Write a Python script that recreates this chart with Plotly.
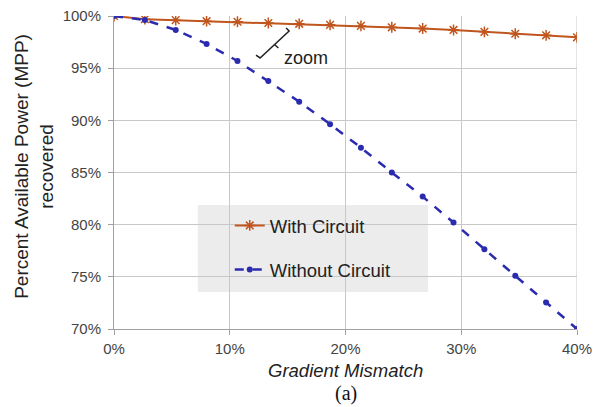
import plotly.graph_objects as go

mismatch = [i * 40 / 15 for i in range(16)]
with_circuit = [100, 99.7, 99.6, 99.5, 99.45, 99.33, 99.25, 99.15, 99.05, 98.92, 98.8, 98.66, 98.48, 98.3, 98.15, 97.96]
without_circuit = [100, 99.62, 98.66, 97.32, 95.69, 93.77, 91.79, 89.63, 87.38, 85.0, 82.69, 80.2, 77.65, 75.1, 72.54, 70.0]
x_ticks = [0, 10, 20, 30, 40]
x_tick_labels = ["0%", "10%", "20%", "30%", "40%"]
y_ticks = [70, 75, 80, 85, 90, 95, 100]
y_tick_labels = ["70%", "75%", "80%", "85%", "90%", "95%", "100%"]

FONT = "Arial, Liberation Sans, sans-serif"
ORANGE = "#c0561e"
BLUE = "#2b2bb0"

fig = go.Figure()
fig.add_trace(go.Scatter(
    x=mismatch, y=with_circuit, name="With Circuit", mode="lines+markers",
    line=dict(color=ORANGE, width=2),
    marker=dict(symbol="asterisk", size=9, line=dict(color=ORANGE, width=1.5)),
    legend="legend",
))
fig.add_trace(go.Scatter(
    x=mismatch, y=without_circuit, name="Without Circuit", mode="lines+markers",
    line=dict(color=BLUE, width=2.5, dash="dash"),
    marker=dict(symbol="circle", size=6, color=BLUE),
    legend="legend2",
))

# legend background box (below gridlines)
fig.add_shape(type="rect", xref="paper", yref="paper", x0=0.181, x1=0.678, y0=0.118, y1=0.396,
              fillcolor="#ececec", line=dict(width=0), layer="below")

# zoom bracket annotation
fig.add_shape(type="path", xref="x", yref="y",
              path="M 14.87 98.85 L 15.13 98.56 L 12.62 95.98 L 12.27 96.26",
              line=dict(color="#222222", width=1.5))
fig.add_shape(type="line", xref="x", yref="y", x0=13.87, y0=97.27, x1=14.2, y1=96.93,
              line=dict(color="#222222", width=1.5))
fig.add_annotation(x=16.6, y=95.98, xref="x", yref="y", text="zoom", showarrow=False,
                   font=dict(family=FONT, size=18, color="#222222"))

# axis titles as annotations
fig.add_annotation(x=0.5, y=-0.133, xref="paper", yref="paper", yanchor="middle",
                   text="<i>Gradient Mismatch</i>", showarrow=False,
                   font=dict(family=FONT, size=18.5, color="#222222"))
fig.add_annotation(x=-0.173, y=0.521, xref="paper", yref="paper", xanchor="center", yanchor="middle",
                   text="Percent Available Power (MPP)<br>recovered", showarrow=False, textangle=-90,
                   font=dict(family=FONT, size=19, color="#222222"))
fig.add_annotation(x=0.5, y=-0.2075, xref="paper", yref="paper", yanchor="middle",
                   text="(a)", showarrow=False,
                   font=dict(family="Times New Roman, Liberation Serif, serif", size=20, color="#111111"))

legend_common = dict(xanchor="left", yanchor="top", bgcolor="rgba(0,0,0,0)",
                     font=dict(family=FONT, size=18.5, color="#222222"))
fig.update_layout(
    width=603, height=407,
    margin=dict(l=114, r=26, t=16, b=78, autoexpand=False),
    paper_bgcolor="white", plot_bgcolor="white",
    font=dict(family=FONT, color="#333333"),
    showlegend=True,
    legend=dict(x=0.25, y=0.39, **legend_common),
    legend2=dict(x=0.25, y=0.249, **legend_common),
    xaxis=dict(range=[0, 40], tickvals=x_ticks, ticktext=x_tick_labels,
               showgrid=True, gridcolor="#c8c8c8", gridwidth=1,
               showline=True, linecolor="#a0a0a0", mirror=False,
               ticks="outside", ticklen=5, tickcolor="#a0a0a0", ticklabelstandoff=1,
               tickfont=dict(size=15, color="#444444"),
               automargin=False, zeroline=False),
    yaxis=dict(range=[70, 100], tickvals=y_ticks, ticktext=y_tick_labels,
               showgrid=True, gridcolor="#c8c8c8", gridwidth=1,
               showline=True, linecolor="#a0a0a0",
               ticks="outside", ticklen=5, tickcolor="#a0a0a0", ticklabelstandoff=4,
               tickfont=dict(size=15, color="#444444"),
               automargin=False, zeroline=False),
)
fig.add_shape(type="line", xref="x", yref="y", x0=40, x1=40, y0=70, y1=100,
              line=dict(color="#c8c8c8", width=1), layer="below")

fig.write_html("out.html", config={"displayModeBar": False},
               post_script="document.body.style.margin='0';document.body.style.padding='0';")
